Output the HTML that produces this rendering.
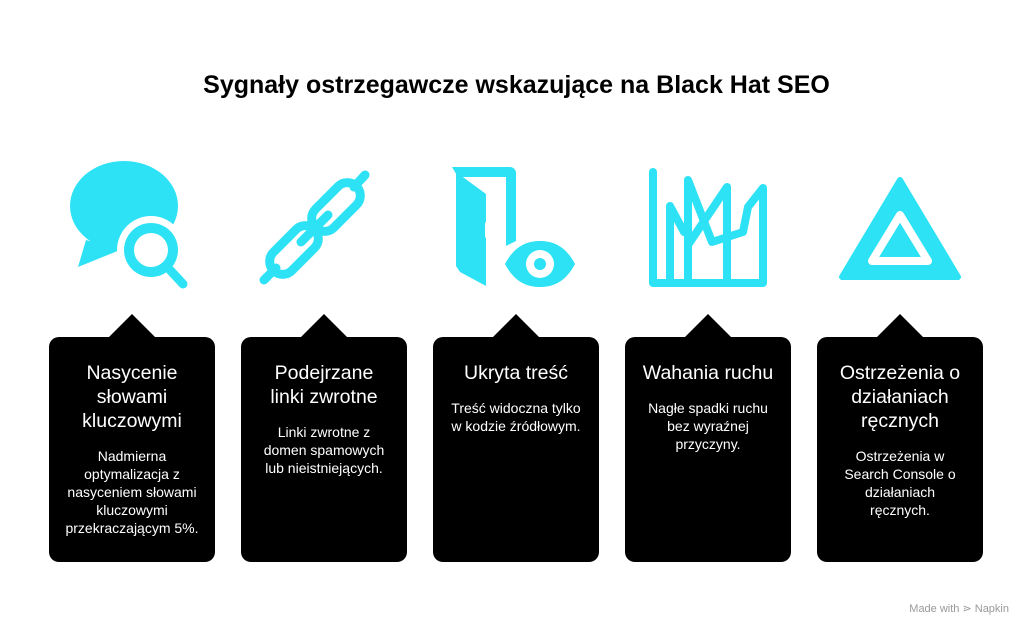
<!DOCTYPE html><html><head><meta charset="utf-8"><style>
body{margin:0;width:1033px;height:636px;background:#fff;font-family:"Liberation Sans",Arial,sans-serif;position:relative;overflow:hidden}
h1{position:absolute;top:71px;left:0;width:1033px;text-align:center;font-size:25px;font-weight:bold;margin:0;color:#000}
.card{position:absolute;top:337px;width:166px;height:225px;background:#000;border-radius:10px;color:#fff;text-align:center}
.card:before{content:"";position:absolute;top:-23px;left:60px;border-left:23px solid transparent;border-right:23px solid transparent;border-bottom:23px solid #000}
.t{font-size:19.5px;line-height:24px;margin:24px 15px 0}
.b{font-size:14px;line-height:18px;margin:14px 16px 0}
.ft{position:absolute;right:24px;top:602px;font-size:11px;color:#999}
</style></head><body>
<h1>Sygnały ostrzegawcze wskazujące na Black Hat SEO</h1>
<svg width="1033" height="320" style="position:absolute;left:0;top:0">
<g fill="#2ee2f5" stroke="none">
<ellipse cx="124" cy="206" rx="54" ry="45"/>
<polygon points="86,240 78,267 120,250"/>
<circle cx="151" cy="250" r="34" fill="#fff"/>
<circle cx="151" cy="250" r="27"/><circle cx="151" cy="250" r="17" fill="#fff"/>
</g>
<line x1="170" y1="270" x2="183" y2="284" stroke="#2ee2f5" stroke-width="9" stroke-linecap="round"/>
<g stroke="#2ee2f5" stroke-width="9" fill="none" stroke-linecap="round">
<line x1="264" y1="280" x2="276" y2="268"/><line x1="354" y1="187" x2="365" y2="175"/>
<rect x="265" y="237" width="58" height="26" rx="13" transform="rotate(-45 294 250)"/>
<rect x="307" y="194" width="58" height="26" rx="13" transform="rotate(-45 336 207)"/>
<line x1="301" y1="242" x2="328" y2="215"/>
</g>
<g fill="#2ee2f5">
<polygon points="456,172 486,194 486,286 460,272 456,266"/>
<path d="M452,167 h58 a6,6 0 0 1 6,6 v68 l-10,5 v-69 h-48z"/>
<path d="M505,264 C515,245 528,241 540,241 C552,241 565,245 575,264 C565,283 552,287 540,287 C528,287 515,283 505,264z"/>
</g>
<rect x="485" y="221" width="6" height="18" rx="3" fill="#fff"/>
<circle cx="540" cy="264" r="14" fill="#fff"/><circle cx="540" cy="264" r="6" fill="#2ee2f5"/>
<g stroke="#2ee2f5" stroke-width="8" fill="none" stroke-linecap="round" stroke-linejoin="round">
<polyline points="653,172 653,283 763,283 763,188 748,207 743,232 712,242 688,180 688,283"/>
<polyline points="670,283 670,206 684,232"/>
<polyline points="688,245 727,187 727,283"/>
</g>
<polygon points="900,180 958,277 842,277" fill="#2ee2f5" stroke="#2ee2f5" stroke-width="6" stroke-linejoin="round"/>
<polygon points="900,215 928,261 872,261" fill="none" stroke="#fff" stroke-width="8" stroke-linejoin="round"/>
</svg>
<div class="card" style="left:49px"><div class="t">Nasycenie słowami kluczowymi</div><div class="b">Nadmierna optymalizacja z nasyceniem słowami kluczowymi przekraczającym 5%.</div></div>
<div class="card" style="left:241px"><div class="t">Podejrzane linki zwrotne</div><div class="b">Linki zwrotne z domen spamowych lub nieistniejących.</div></div>
<div class="card" style="left:433px"><div class="t">Ukryta treść</div><div class="b">Treść widoczna tylko w kodzie źródłowym.</div></div>
<div class="card" style="left:625px"><div class="t">Wahania ruchu</div><div class="b">Nagłe spadki ruchu bez wyraźnej przyczyny.</div></div>
<div class="card" style="left:817px"><div class="t">Ostrzeżenia o działaniach ręcznych</div><div class="b">Ostrzeżenia w<br>Search Console o<br>działaniach<br>ręcznych.</div></div>
<div class="ft">Made with ⋗ Napkin</div>
</body></html>
